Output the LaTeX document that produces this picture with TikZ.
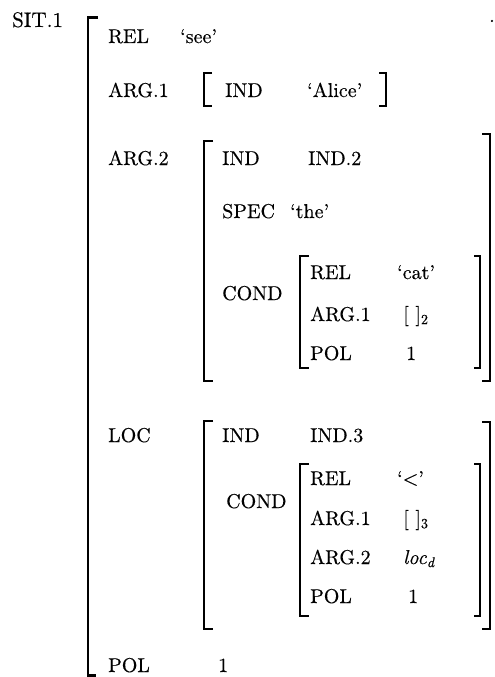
\documentclass[tikz,border=0pt]{standalone}
\usepackage{fontspec}
\setmainfont{lmroman10-regular.otf}[FakeBold=0.4,ItalicFont=lmroman10-italic.otf,ItalicFeatures={FakeBold=0.4}]
\begin{document}
\begin{tikzpicture}[x=1pt,y=-1pt,
  txt/.style={anchor=base west,inner sep=0pt,font=\fontsize{20}{24}\selectfont},
  brk/.style={line width=2.6pt,line cap=butt,line join=miter}]
\useasboundingbox (0,0) rectangle (495,677);
% labels
\node[txt,font=\fontsize{21}{24}\selectfont] (sit) at (12,27) {SIT.1};
\node[txt] (dot) at (489,22) {.};
\node[txt] (rel0) at (108,43) {REL};
\node[txt] (see) at (180,43) {`see'};
\node[txt] (arg1) at (108,97) {ARG.1};
\node[txt] (ind1) at (225,97) {IND};
\node[txt] (alice) at (307,97) {`Alice'};
\node[txt] (arg2) at (108,165) {ARG.2};
\node[txt] (ind2k) at (222,165) {IND};
\node[txt] (ind2v) at (308,165) {IND.2};
\node[txt] (spec) at (222,218) {SPEC};
\node[txt] (the) at (290,218) {`the'};
\node[txt] (cond1) at (222,300) {COND};
\node[txt] (rel1) at (310,279) {REL};
\node[txt] (cat) at (397,279) {`cat'};
\node[txt] (a11) at (310,321) {ARG.1};
\node[txt] (e2) at (403,321) {[\,\,]\textsubscript{2}};
\node[txt] (pol1) at (310,360) {POL};
\node[txt] (one1) at (406,360) {1};
\node[txt] (loc) at (108,442) {LOC};
\node[txt] (ind3k) at (222,442) {IND};
\node[txt] (ind3v) at (310,442) {IND.3};
\node[txt] (cond2) at (226,508) {COND};
\node[txt] (rel2) at (310,485) {REL};
\node[txt] (lt) at (397,485) {`<'};
\node[txt] (a21) at (310,525) {ARG.1};
\node[txt] (e3) at (403,525) {[\,\,]\textsubscript{3}};
\node[txt] (a22) at (310,564) {ARG.2};
\node[txt] (locd) at (403,564) {\textit{loc}\textsubscript{\textit{d}}};
\node[txt] (pol2) at (310,603) {POL};
\node[txt] (one2) at (408,603) {1};
\node[txt] (pol) at (108,672) {POL};
\node[txt] (one) at (218,672) {1};
% brackets
\draw[brk] (98,17.3) -- (88,17.3) -- (88,675.7) -- (96,675.7);
\draw[brk] (212,73) -- (204,73) -- (204,106) -- (212,106);
\draw[brk] (379,73) -- (386,73) -- (386,106) -- (379,106);
\draw[brk] (213,141) -- (204,141) -- (204,381) -- (213,381);
\draw[brk] (482,134) -- (490,134) -- (490,381) -- (482,381);
\draw[brk] (309,256) -- (300,256) -- (300,368) -- (309,368);
\draw[brk] (474,256) -- (480,256) -- (480,368) -- (474,368);
\draw[brk] (213,421) -- (204,421) -- (204,629) -- (213,629);
\draw[brk] (482,422) -- (490,422) -- (490,629) -- (482,629);
\draw[brk] (309,464) -- (300,464) -- (300,616) -- (309,616);
\draw[brk] (474,464) -- (480,464) -- (480,616) -- (474,616);
\end{tikzpicture}
\end{document}
